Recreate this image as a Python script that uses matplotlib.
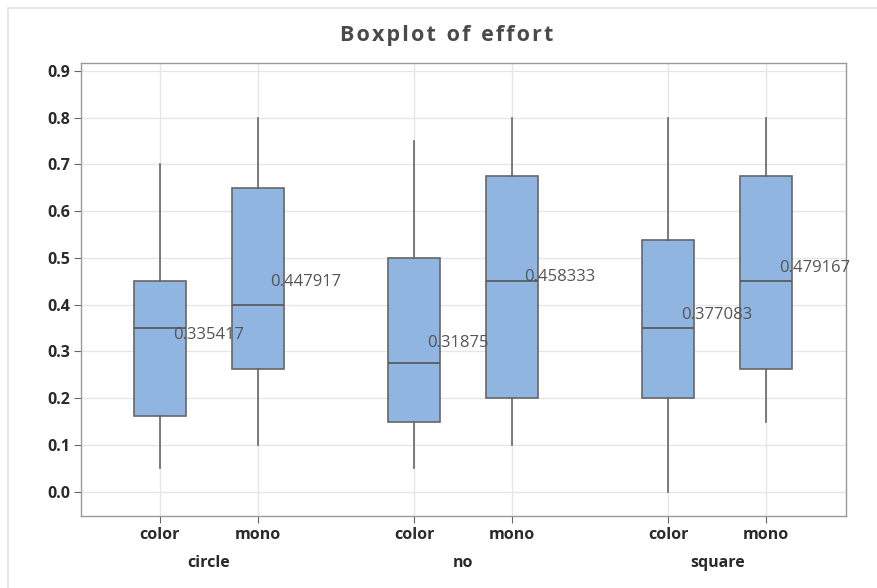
import matplotlib
matplotlib.use("Agg")
import matplotlib.pyplot as plt
from matplotlib.patches import Rectangle

plt.rcParams['font.family'] = ['Open Sans', 'DejaVu Sans']

# data
groups = ["circle", "no", "square"]
subs = ["color", "mono"]
whislo = [0.05, 0.10, 0.05, 0.10, 0.00, 0.15]
q1 = [0.1625, 0.2625, 0.15, 0.20, 0.20, 0.2625]
med = [0.35, 0.40, 0.275, 0.45, 0.35, 0.45]
q3 = [0.45, 0.65, 0.50, 0.675, 0.5375, 0.675]
whishi = [0.70, 0.80, 0.75, 0.80, 0.80, 0.80]
means = [0.335417, 0.447917, 0.31875, 0.458333, 0.377083, 0.479167]
mean_labels = ["0.335417", "0.447917", "0.31875", "0.458333", "0.377083", "0.479167"]

positions = []
for g in range(len(groups)):
    for s in range(len(subs)):
        positions.append(g * 2.6 + s)

stats = []
for i in range(len(positions)):
    stats.append(dict(whislo=whislo[i], q1=q1[i], med=med[i], q3=q3[i],
                      whishi=whishi[i], fliers=[], mean=means[i]))

fig = plt.figure(figsize=(8.77, 5.88), dpi=100)
ax = fig.add_axes([81 / 877, 1 - 516 / 588, (846 - 81) / 877, (516 - 63) / 588])

# outer frame of the graph
fig.patches.append(Rectangle((8 / 877, -0.01), 1.0, 1 - 8 / 588 + 0.01, transform=fig.transFigure,
                             fill=False, edgecolor="#e2e2e2", linewidth=1.2))

edge = "#666666"
ax.bxp(stats, positions=positions, widths=0.53, patch_artist=True, showcaps=False,
       showfliers=False,
       boxprops=dict(facecolor="#8fb5e0", edgecolor=edge, linewidth=1.2),
       whiskerprops=dict(color=edge, linewidth=1.2),
       medianprops=dict(color="#555555", linewidth=1.2), zorder=3)

for x, m, lab in zip(positions, means, mean_labels):
    ax.text(x + 0.13, m, lab, fontsize=12, color="#555555", va="center", ha="left", zorder=4)

ax.set_xlim(-0.808, 7.018)
ax.set_ylim(-0.052, 0.917)
ax.set_yticks([i / 10 for i in range(10)])
ax.set_yticklabels(["%.1f" % (i / 10) for i in range(10)])
ax.set_xticks(positions)
ax.set_xticklabels(subs * len(groups))
for lab in ax.get_xticklabels() + ax.get_yticklabels():
    lab.set_fontweight("bold")
    lab.set_fontsize(11.5)
    lab.set_color("#2a2a2a")
ax.tick_params(axis="both", length=5, color=edge, pad=3)

for g in range(len(groups)):
    ax.text(g * 2.6 + 0.5, -0.152, groups[g], ha="center", va="center", fontsize=11.5,
            fontweight="bold", color="#2a2a2a", transform=ax.transData, clip_on=False)

ax.grid(True, color="#e6e6e6", linewidth=1.0, zorder=0)
ax.set_axisbelow(True)
for sp in ax.spines.values():
    sp.set_color("#999999")
    sp.set_linewidth(1.0)

title = "Boxplot of effort"
spaced = "\u200a".join(title).replace("\u200a \u200a", "\u2002")
fig.text(447 / 877, 1 - 36 / 588, spaced,
         ha="center", va="center", fontsize=15.5, fontweight="bold", color="#4a4a4a")

fig.savefig("out.png", dpi=100)
